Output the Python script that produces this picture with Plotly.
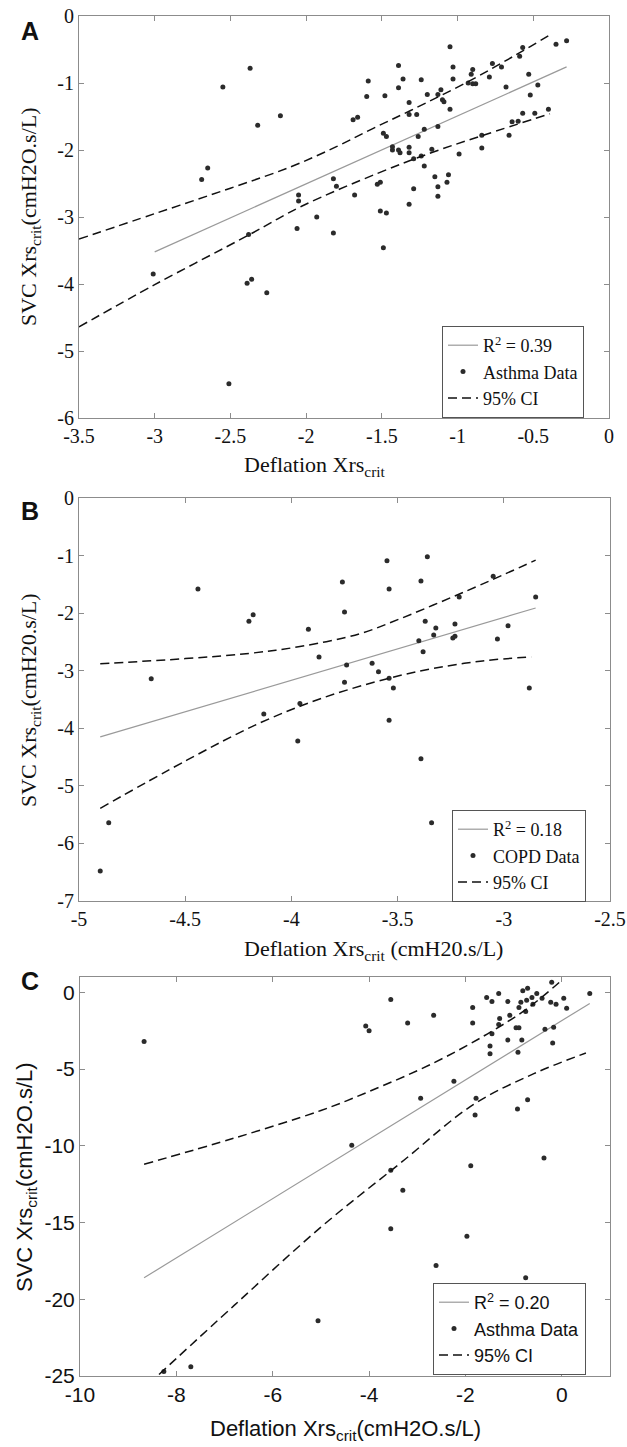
import plotly.graph_objects as go

# ---------------- Panel A (Asthma, deflation vs SVC) ----------------
a_x = [-2.37, -2.55, -2.17, -2.32, -2.65, -2.69, -2.05, -2.05, -1.93, -2.06, -2.38, -3.01, -2.39, -2.36,
       -2.26, -2.51, -1.82, -1.49, -0.28, -0.35, -0.57, -0.59, -0.71, -0.77, -0.79, -0.90, -0.91, -0.93,
       -0.90, -0.88, -0.53, -0.47, -0.68, -0.52, -1.05, -1.03, -1.03, -1.05, -1.11, -1.13, -1.10, -1.09,
       -1.20, -1.24, -1.36, -1.39, -1.39, -1.32, -1.32, -1.27, -1.59, -1.60, -1.48, -1.69, -1.66, -1.49,
       -1.47, -1.22, -1.26, -1.13, -1.43, -1.43, -1.39, -1.38, -1.32, -1.32, -1.29, -1.24, -1.17, -0.99,
       -0.84, -0.84, -0.66, -0.64, -0.60, -0.57, -0.49, -0.40, -1.22, -1.82, -1.80, -1.53, -1.51, -1.68,
       -1.29, -1.15, -1.06, -1.07, -1.13, -1.13, -1.32, -1.51, -1.47]
a_y = [-0.78, -1.06, -1.49, -1.63, -2.27, -2.44, -2.67, -2.76, -3.00, -3.17, -3.26, -3.85, -3.99, -3.93,
       -4.13, -5.49, -3.24, -3.46, -0.37, -0.42, -0.47, -0.60, -0.76, -0.71, -0.91, -0.80, -0.87, -1.00,
       -1.01, -1.01, -0.87, -1.03, -1.06, -1.18, -0.46, -0.76, -0.94, -1.39, -1.10, -1.17, -1.25, -1.28,
       -1.17, -0.95, -0.94, -0.74, -1.07, -1.29, -1.47, -1.47, -0.97, -1.20, -1.19, -1.55, -1.51, -1.75,
       -1.80, -1.69, -1.80, -1.65, -1.95, -2.00, -2.00, -2.04, -1.96, -2.04, -2.13, -2.09, -1.99, -2.06,
       -1.97, -1.78, -1.78, -1.58, -1.57, -1.45, -1.45, -1.39, -2.24, -2.43, -2.54, -2.51, -2.48, -2.67,
       -2.58, -2.40, -2.37, -2.48, -2.55, -2.69, -2.81, -2.91, -2.94]
a_fit_x = [-3.00, -0.28]
a_fit_y = [-3.52, -0.76]
a_up_x = [-3.50, -3.00, -2.50, -2.10, -1.80, -1.56, -1.31, -0.93, -0.63, -0.38]
a_up_y = [-3.33, -2.95, -2.57, -2.25, -1.95, -1.68, -1.41, -0.98, -0.60, -0.27]
a_lo_x = [-3.50, -3.00, -2.38, -2.03, -1.53, -1.16, -0.83, -0.39]
a_lo_y = [-4.64, -4.01, -3.27, -2.84, -2.35, -2.03, -1.78, -1.46]
a_xticks = [-3.5, -3, -2.5, -2, -1.5, -1, -0.5, 0]
a_xlabels = ["-3.5", "-3", "-2.5", "-2", "-1.5", "-1", "-0.5", "0"]
a_yticks = [-6, -5, -4, -3, -2, -1, 0]
a_ylabels = ["-6", "-5", "-4", "-3", "-2", "-1", "0"]

# ---------------- Panel B (COPD) ----------------
b_x = [-4.44, -4.20, -4.18, -3.92, -3.87, -4.66, -4.13, -3.96, -3.97, -4.86, -4.90, -3.54, -3.39, -3.34,
       -3.55, -3.36, -3.76, -3.39, -3.54, -3.05, -3.75, -3.21, -2.85, -3.37, -3.32, -3.23, -2.98, -3.33,
       -3.23, -3.24, -3.40, -3.03, -3.38, -3.74, -3.62, -3.59, -3.54, -3.75, -3.52, -2.88]
b_y = [-1.58, -2.14, -2.03, -2.28, -2.76, -3.14, -3.75, -3.57, -4.22, -5.64, -6.48, -3.86, -4.53, -5.64,
       -1.09, -1.02, -1.46, -1.44, -1.58, -1.36, -1.98, -1.72, -1.72, -2.14, -2.26, -2.19, -2.22, -2.38,
       -2.40, -2.43, -2.48, -2.45, -2.67, -2.90, -2.87, -3.02, -3.13, -3.20, -3.30, -3.30]
b_fit_x = [-4.90, -2.85]
b_fit_y = [-4.15, -1.91]
b_up_x = [-4.90, -4.50, -4.20, -3.96, -3.68, -3.49, -3.30, -3.11, -2.85]
b_up_y = [-2.88, -2.79, -2.70, -2.58, -2.36, -2.10, -1.81, -1.51, -1.08]
b_lo_x = [-4.90, -4.49, -4.15, -3.85, -3.54, -3.33, -3.10, -2.87]
b_lo_y = [-5.39, -4.55, -3.91, -3.47, -3.13, -2.96, -2.83, -2.76]
b_xticks = [-5, -4.5, -4, -3.5, -3, -2.5]
b_xlabels = ["-5", "-4.5", "-4", "-3.5", "-3", "-2.5"]
b_yticks = [-7, -6, -5, -4, -3, -2, -1, 0]
b_ylabels = ["-7", "-6", "-5", "-4", "-3", "-2", "-1", "0"]

# ---------------- Panel C (Asthma) ----------------
c_x = [-8.67, -7.70, -8.26, -5.06, -3.55, -1.97, -2.61, -0.75, -4.36, -3.55, -3.30, -2.93, -2.24, -1.78,
       -1.80, -1.89, -0.92, -0.71, -0.37, -3.55, -4.07, -4.00, -3.20, -2.66, -1.85, -1.85, -1.56, -1.45,
       -1.31, -1.12, -1.29, -1.31, -1.08, -1.45, -1.49, -1.49, -1.12, -0.95, -0.89, -0.83, -0.91, -0.81,
       -0.71, -0.85, -0.73, -0.62, -0.89, -0.75, -0.60, -0.52, -0.41, -0.21, -0.23, -0.12, 0.04, 0.10,
       0.58, -0.35, -0.17, -0.19]
c_y = [-3.2, -24.4, -24.7, -21.4, -15.4, -15.9, -17.8, -18.6, -9.96, -11.6, -12.9, -6.9, -5.8, -6.9,
       -8.0, -11.3, -7.6, -7.0, -10.8, -0.46, -2.2, -2.5, -2.0, -1.5, -0.98, -2.0, -0.33, -0.59,
       -0.07, -0.59, -1.7, -2.1, -1.5, -2.7, -3.5, -4.0, -3.1, -2.3, -2.3, -3.1, -3.9, 0.1,
       0.26, -0.65, -0.52, -0.33, -0.98, -1.24, -0.78, -0.07, -0.39, 0.65, -0.65, -0.78, -0.39, -1.04,
       -0.07, -2.4, -2.28, -3.3]
c_fit_x = [-8.67, 0.58]
c_fit_y = [-18.6, -0.72]
c_up_x = [-8.67, -6.80, -5.00, -4.03, -2.66, -1.54, -0.71, 0.02]
c_up_y = [-11.2, -9.5, -7.7, -6.5, -4.6, -2.7, -1.04, 0.85]
c_lo_x = [-8.36, -6.80, -5.00, -3.34, -1.83, -0.58, 0.50]
c_lo_y = [-24.9, -20.4, -15.3, -11.1, -7.3, -5.3, -3.95]
c_xticks = [-10, -8, -6, -4, -2, 0]
c_xlabels = ["-10", "-8", "-6", "-4", "-2", "0"]
c_yticks = [-25, -20, -15, -10, -5, 0]
c_ylabels = ["-25", "-20", "-15", "-10", "-5", "0"]

W, H = 627, 1447
SERIF = "Liberation Serif"
SANS = "Liberation Sans"
DOT = "#2b2b2b"
FITC = "#9a9a9a"
AXC = "#8c8c8c"
TXT = "#111111"


def px(xp):
    return xp / W


def py(yp):
    return 1 - yp / H


panels = [
    dict(ax="", x=a_x, y=a_y, fx=a_fit_x, fy=a_fit_y, ux=a_up_x, uy=a_up_y, lx=a_lo_x, ly=a_lo_y,
         r2="R<sup>2</sup> = 0.39", data="Asthma Data", leg="legend"),
    dict(ax="2", x=b_x, y=b_y, fx=b_fit_x, fy=b_fit_y, ux=b_up_x, uy=b_up_y, lx=b_lo_x, ly=b_lo_y,
         r2="R<sup>2</sup> = 0.18", data="COPD Data", leg="legend2"),
    dict(ax="3", x=c_x, y=c_y, fx=c_fit_x, fy=c_fit_y, ux=c_up_x, uy=c_up_y, lx=c_lo_x, ly=c_lo_y,
         r2="R<sup>2</sup> = 0.20", data="Asthma Data", leg="legend3"),
]

fig = go.Figure()
for p in panels:
    xa, ya = "x" + p["ax"], "y" + p["ax"]
    fig.add_trace(go.Scatter(x=p["fx"], y=p["fy"], mode="lines", name=p["r2"], legend=p["leg"],
                             line=dict(color=FITC, width=1.2), xaxis=xa, yaxis=ya))
    fig.add_trace(go.Scatter(x=p["x"], y=p["y"], mode="markers", name=p["data"], legend=p["leg"],
                             marker=dict(color=DOT, size=5), xaxis=xa, yaxis=ya))
    fig.add_trace(go.Scatter(x=p["ux"], y=p["uy"], mode="lines", name="95% CI", legend=p["leg"],
                             line=dict(color=TXT, width=1.5, dash="9px,5px", shape="spline", smoothing=1.0),
                             xaxis=xa, yaxis=ya))
    fig.add_trace(go.Scatter(x=p["lx"], y=p["ly"], mode="lines", name="95% CI", legend=p["leg"],
                             showlegend=False,
                             line=dict(color=TXT, width=1.5, dash="9px,5px", shape="spline", smoothing=1.0),
                             xaxis=xa, yaxis=ya))


def axis(domain, rng, tv, tt, font, size, anchor):
    return dict(domain=domain, range=rng, tickmode="array", tickvals=tv, ticktext=tt,
                showgrid=False, zeroline=False,
                showline=True, linecolor=AXC, linewidth=1, mirror="ticks", ticks="inside",
                ticklen=5, tickcolor=AXC, tickfont=dict(family=font, size=size, color=TXT),
                anchor=anchor, automargin=False)


fig.update_layout(
    width=W, height=H, margin=dict(l=0, r=0, t=0, b=0), autosize=False,
    plot_bgcolor="white", paper_bgcolor="white",
    xaxis=axis([px(79), px(609)], [-3.5, 0], a_xticks, a_xlabels, SERIF, 20, "y"),
    yaxis=axis([py(418), py(16)], [-6, 0], a_yticks, a_ylabels, SERIF, 20, "x"),
    xaxis2=axis([px(79), px(610)], [-5, -2.5], b_xticks, b_xlabels, SERIF, 20, "y2"),
    yaxis2=axis([py(901), py(498)], [-7, 0], b_yticks, b_ylabels, SERIF, 20, "x2"),
    xaxis3=axis([px(80), px(610)], [-10, 1], c_xticks, c_xlabels, SANS, 21, "y3"),
    yaxis3=axis([py(1376), py(977)], [-25, 1], c_yticks, c_ylabels, SANS, 21, "x3"),
)

legcommon = dict(bgcolor="white", bordercolor="#555555", borderwidth=1, xanchor="left", yanchor="top",
                 itemwidth=30, tracegroupgap=0)
fig.update_layout(
    legend=dict(x=px(442), y=py(326), font=dict(family=SERIF, size=18, color=TXT), **legcommon),
    legend2=dict(x=px(452), y=py(810), font=dict(family=SERIF, size=18, color=TXT), **legcommon),
    legend3=dict(x=px(433), y=py(1283), font=dict(family=SANS, size=18, color=TXT), **legcommon),
)

annots = [
    # panel letters
    dict(text="<b>A</b>", x=px(30), y=py(31), font=dict(family=SANS, size=25)),
    dict(text="<b>B</b>", x=px(30), y=py(511), font=dict(family=SANS, size=25)),
    dict(text="<b>C</b>", x=px(30), y=py(981), font=dict(family=SANS, size=25)),
    # axis titles
    dict(text="Deflation Xrs<sub>crit</sub>", x=px(315), y=py(466), font=dict(family=SERIF, size=22)),
    dict(text="SVC Xrs<sub>crit</sub>(cmH2O.s/L)", x=px(30), y=py(217), textangle=-90,
         font=dict(family=SERIF, size=22)),
    dict(text="Deflation Xrs<sub>crit</sub> (cmH20.s/L)", x=px(373), y=py(950),
         font=dict(family=SERIF, size=22)),
    dict(text="SVC Xrs<sub>crit</sub>(cmH20.s/L)", x=px(30), y=py(700), textangle=-90,
         font=dict(family=SERIF, size=22)),
    dict(text="Deflation Xrs<sub>crit</sub>(cmH2O.s/L)", x=px(345), y=py(1430),
         font=dict(family=SANS, size=22)),
    dict(text="SVC Xrs<sub>crit</sub>(cmH2O.s/L)", x=px(26), y=py(1177), textangle=-90,
         font=dict(family=SANS, size=22)),
]
for a in annots:
    a.setdefault("xref", "paper")
    a.setdefault("yref", "paper")
    a.setdefault("showarrow", False)
    a["font"].setdefault("color", TXT)
    a.setdefault("xanchor", "center")
    a.setdefault("yanchor", "middle")
fig.update_layout(annotations=annots)

fig.write_html("out.html")
